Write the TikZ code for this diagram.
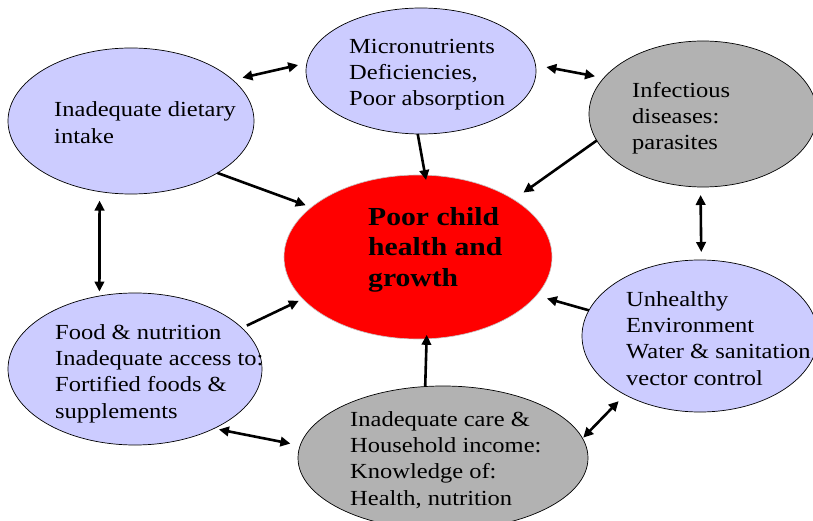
\documentclass[tikz,border=0pt]{standalone}
\usepackage{fontspec}
\setmainfont{Liberation Serif}[FakeStretch=1.14]
\usetikzlibrary{shapes.geometric,arrows.meta}
\definecolor{lav}{HTML}{CCCCFF}
\definecolor{gry}{HTML}{B2B2B2}
\definecolor{hot}{HTML}{FF0000}
\tikzset{
  bub/.style={ellipse, draw=black, line width=0.7pt, inner sep=0pt, outer sep=0pt},
  lav/.style={bub, fill=lav},
  gry/.style={bub, fill=gry},
  txt/.style={anchor=base west, align=left, inner sep=0pt, font=\fontsize{21.5}{26.3}\selectfont},
  big/.style={anchor=base west, align=left, inner sep=0pt, font=\fontsize{26}{30.5}\selectfont\bfseries},
  arr/.style={line width=2.6pt, -{Triangle[length=10pt,width=9.5pt]}},
  dbl/.style={line width=2.6pt, {Triangle[length=10pt,width=9.5pt]}-{Triangle[length=10pt,width=9.5pt]}},
}
\begin{document}
\begin{tikzpicture}[x=1pt,y=-1pt]
\useasboundingbox (0,0) rectangle (813,521);
\clip (0,0) rectangle (813,521);
\fill[white] (0,0) rectangle (813,521);
% ellipses
\node[lav, minimum width=246pt, minimum height=146pt] (D) at (131,121) {};
\node[lav, minimum width=230pt, minimum height=126pt] (M) at (421,71) {};
\node[gry, minimum width=228pt, minimum height=146pt] (I) at (703,114) {};
\node[ellipse, fill=hot, draw=gray!45, line width=0.6pt, inner sep=0pt, outer sep=0pt, minimum width=268pt, minimum height=164pt] (C) at (418,257) {};
\node[lav, minimum width=254pt, minimum height=152pt] (F) at (135,369) {};
\node[gry, minimum width=290pt, minimum height=144pt] (H) at (443,458) {};
\node[lav, minimum width=236pt, minimum height=152pt] (U) at (700,336) {};
% texts (anchored at the baseline of the last line)
\node[txt] (tD) at (54,143.3) {Inadequate dietary\\intake};
\node[txt] (tM) at (349,106) {Micronutrients\\Deficiencies,\\Poor absorption};
\node[txt] (tI) at (632,150) {Infectious\\diseases:\\parasites};
\node[big] (tC) at (368,286) {Poor child\\health and\\growth};
\node[txt] (tF) at (55,418) {Food \& nutrition\\Inadequate access to:\\Fortified foods \&\\supplements};
\node[txt] (tH) at (350,505) {Inadequate care \&\\Household income:\\Knowledge of:\\Health, nutrition};
\node[txt] (tU) at (626,385) {Unhealthy\\Environment\\Water \& sanitation\\vector control};
% connectors
\draw[dbl, shorten <=10pt, shorten >=9pt] (D.22.7) -- (M.176.3);
\draw[dbl, shorten <=11pt, shorten >=9pt] (M.3.7) -- (I.160.1);
\draw[arr, shorten >=6pt] (D.-31.2) -- (C.155.9);
\draw[arr, shorten >=-5pt] (M.-93.6) -- (C.85.5);
\draw[arr, shorten >=12pt] (I.194.8) -- (C.31.4);
\draw[dbl, shorten <=9pt, shorten >=4.5pt] (D.246.7) -- (F.116.3);
\draw[dbl, shorten <=8pt, shorten >=8pt] (I.268.6) -- (U.89.3);
\draw[arr, shorten <=5.5pt, shorten >=4.5pt] (F.21) -- (C.200.3);
\draw[arr, shorten >=11pt] (U.167.9) -- (C.-18.6);
\draw[arr, shorten >=-4pt] (H.104) -- (C.-84.9);
\draw[dbl, shorten <=5pt, shorten >=10pt] (F.-37.5) -- (H.175.1);
\draw[dbl, shorten <=1pt, shorten >=9pt] (H.8.5) -- (U.218);
\end{tikzpicture}
\end{document}
